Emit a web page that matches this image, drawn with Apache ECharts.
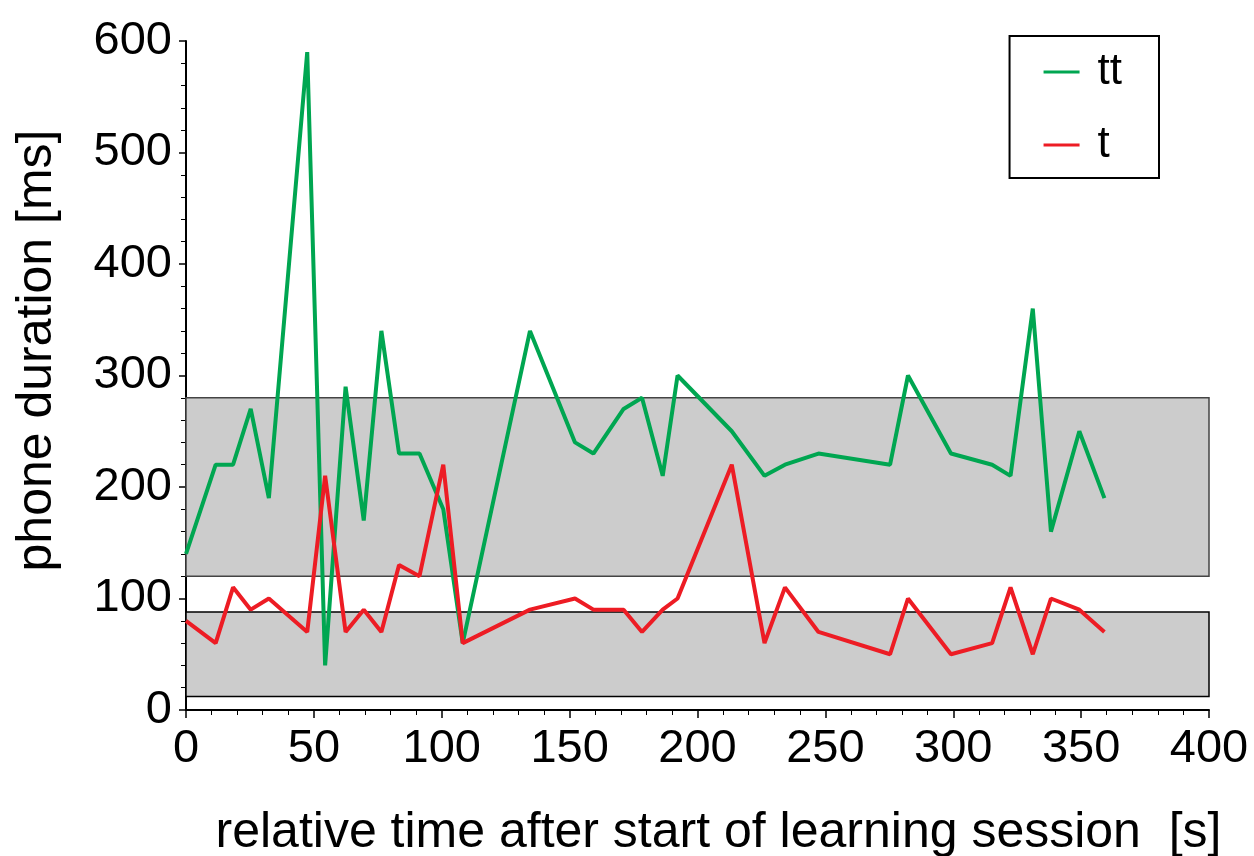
<!DOCTYPE html>
<html>
<head>
<meta charset="utf-8">
<script src="https://cdn.jsdelivr.net/npm/echarts@6/dist/echarts.min.js"></script>
<style>
  html, body { margin: 0; padding: 0; background: #fff; }
  #chart { width: 1254px; height: 856px; }
</style>
</head>
<body>
<div id="chart"></div>
<script>
// Sample times (s) after the start of the learning session
const times = [0, 11.6, 18.4, 25.3, 32.4, 47.4, 54.4, 62.4, 69.5, 76.4, 83.3, 91.3, 100.6, 108.2,
  134.5, 152.1, 159.3, 171.1, 178.3, 186.4, 192.2, 213.4, 226.2, 234.2, 247.3,
  275.3, 282.3, 299.1, 315.2, 322.4, 331.1, 338.2, 349.3, 359.1];
// Phone durations (ms)
const ttDur = [140, 220, 220, 270, 190, 590, 40, 290, 170, 340, 230, 230, 180, 60,
  340, 240, 230, 270, 280, 210, 300, 250, 210, 220, 230,
  220, 300, 230, 220, 210, 360, 160, 250, 190];
const tDur = [80, 60, 110, 90, 100, 70, 210, 70, 90, 70, 130, 120, 220, 60,
  90, 100, 90, 90, 70, 90, 100, 220, 60, 110, 70,
  50, 100, 50, 60, 110, 50, 100, 90, 70];
// Expected duration ranges [low, high] (ms)
const ttRange = [120, 280];
const tRange = [12, 88];
const xRange = [0, 400];

const FONT = '"Liberation Sans", Arial, sans-serif';
const pair = (xs, ys) => xs.map((x, i) => [x, ys[i]]);

const chart = echarts.init(document.getElementById('chart'), null, { renderer: 'canvas' });
chart.setOption({
  animation: false,
  backgroundColor: '#ffffff',
  textStyle: { fontFamily: FONT },
  grid: { left: 186, right: 45, top: 41, bottom: 146, containLabel: false, outerBoundsMode: 'none' },
  legend: {
    orient: 'vertical',
    right: 95,
    top: 36,
    padding: [14, 37, 11, 34],
    itemGap: 29,
    itemWidth: 36,
    itemHeight: 3,
    icon: 'rect',
    borderColor: '#000',
    borderWidth: 2,
    textStyle: { fontFamily: FONT, fontSize: 44, color: '#000', padding: [0, 0, 0, 13] },
    data: ['tt', 't']
  },
  xAxis: {
    type: 'value',
    min: 0, max: 400, interval: 50,
    name: 'relative time after start of learning session  [s]',
    nameLocation: 'middle',
    nameGap: 98,
    nameTextStyle: { fontFamily: FONT, fontSize: 50, color: '#000', padding: [0, 0, 0, 42] },
    axisLine: { show: true, onZero: false, lineStyle: { color: '#000', width: 2 } },
    axisTick: { show: true, length: 8, lineStyle: { color: '#000', width: 1.5 } },
    minorTick: { show: true, splitNumber: 5, length: 5, lineStyle: { color: '#000', width: 1 } },
    axisLabel: { fontFamily: FONT, fontSize: 47, color: '#000', margin: 16 },
    splitLine: { show: false }
  },
  yAxis: {
    type: 'value',
    min: 0, max: 600, interval: 100,
    name: 'phone duration [ms]',
    nameLocation: 'middle',
    nameGap: 124,
    nameRotate: 90,
    nameTextStyle: { fontFamily: FONT, fontSize: 50, color: '#000', padding: [0, 0, 0, 50] },
    axisLine: { show: true, lineStyle: { color: '#000', width: 2 } },
    axisTick: { show: true, length: 7, lineStyle: { color: '#000', width: 1.5 } },
    minorTick: { show: true, splitNumber: 5, length: 5, lineStyle: { color: '#000', width: 1 } },
    axisLabel: { fontFamily: FONT, fontSize: 47, color: '#000', margin: 14 },
    splitLine: { show: false }
  },
  series: [
    {
      name: 'ranges',
      type: 'line',
      data: [],
      z: 1,
      silent: true,
      markArea: {
        silent: true,
        itemStyle: { color: '#cccccc', borderColor: '#444', borderWidth: 1.5 },
        data: [
          [{ xAxis: xRange[0], yAxis: ttRange[0] }, { xAxis: xRange[1], yAxis: ttRange[1] }],
          [{ xAxis: xRange[0], yAxis: tRange[0] }, { xAxis: xRange[1], yAxis: tRange[1], itemStyle: { borderColor: '#000' } }]
        ]
      }
    },
    {
      name: 'tt',
      type: 'line',
      z: 3,
      data: pair(times, ttDur),
      showSymbol: false,
      color: '#00a651',
      lineStyle: { color: '#00a651', width: 4 }
    },
    {
      name: 't',
      type: 'line',
      z: 4,
      data: pair(times, tDur),
      showSymbol: false,
      color: '#ed1c24',
      lineStyle: { color: '#ed1c24', width: 4 }
    }
  ]
});
</script>
</body>
</html>
